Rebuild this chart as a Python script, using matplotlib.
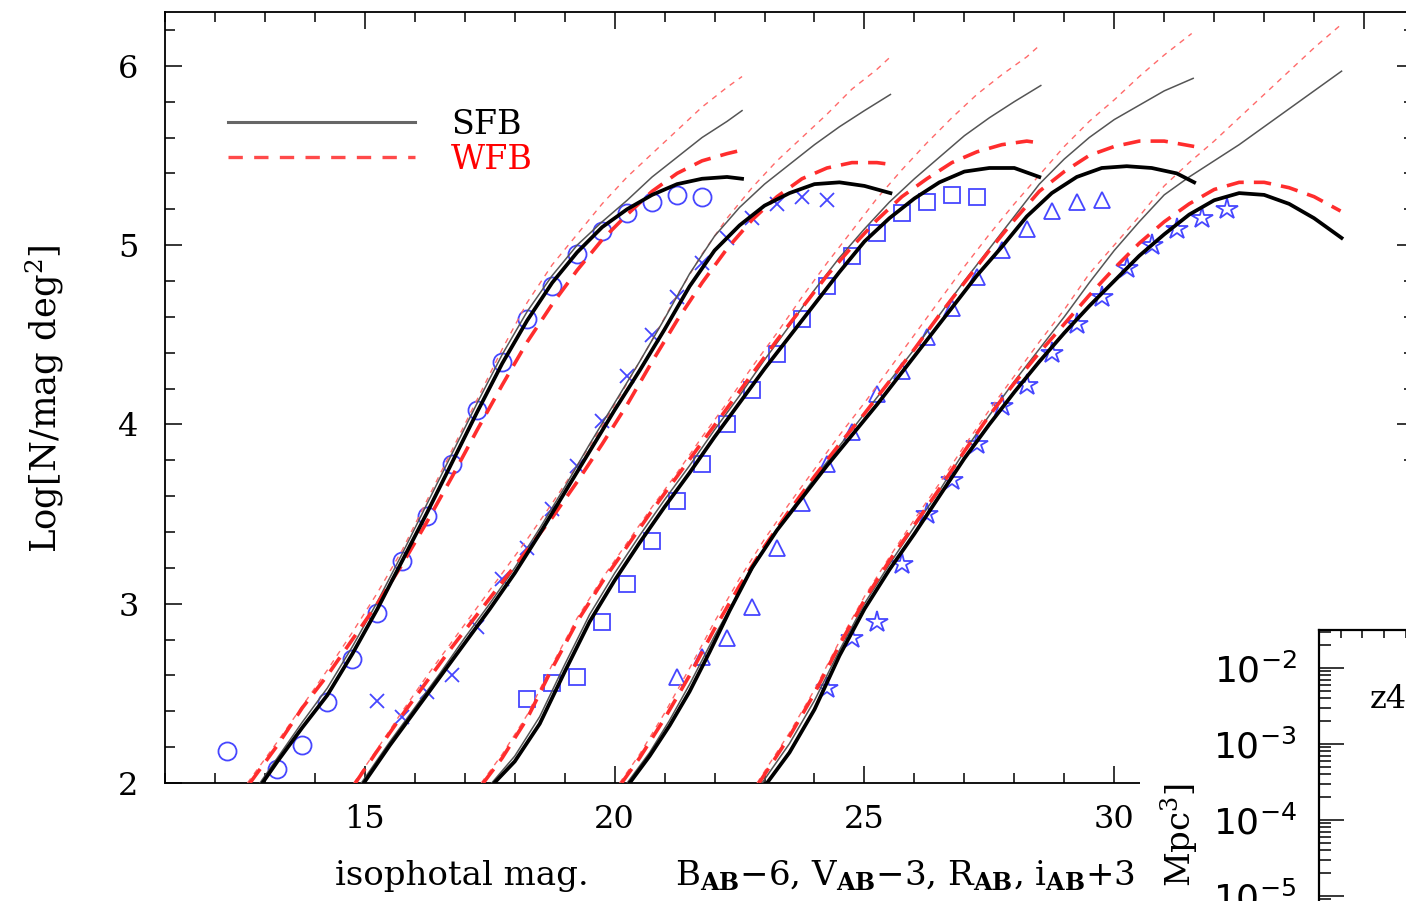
import numpy as np
import matplotlib
matplotlib.use("Agg")
import matplotlib.pyplot as plt
from matplotlib.lines import Line2D
from matplotlib.patches import Rectangle
from matplotlib.ticker import MultipleLocator, LogLocator, NullFormatter

plt.rcParams["font.family"] = ["DejaVu Serif"]
plt.rcParams["mathtext.fontset"] = "dejavuserif"

# observed counts (isophotal mag, log N / mag / deg^2), one list per band
b_mag = [12.25, 13.25, 13.75, 14.25, 14.75, 15.25, 15.75, 16.25, 16.75, 17.25,
         17.75, 18.25, 18.75, 19.25, 19.75, 20.25, 20.75, 21.25, 21.75]
b_logn = [2.18, 2.08, 2.21, 2.45, 2.69, 2.95, 3.24, 3.49, 3.78, 4.08,
          4.35, 4.59, 4.77, 4.95, 5.08, 5.18, 5.24, 5.28, 5.27]

v_mag = [15.25, 15.75, 16.25, 16.75, 17.25, 17.75, 18.25, 18.75, 19.25, 19.75,
         20.25, 20.75, 21.25, 21.75, 22.25, 22.75, 23.25, 23.75, 24.25]
v_logn = [2.46, 2.37, 2.51, 2.60, 2.87, 3.14, 3.31, 3.53, 3.77, 4.02,
          4.27, 4.50, 4.71, 4.90, 5.04, 5.15, 5.23, 5.27, 5.25]

r_mag = [18.25, 18.75, 19.25, 19.75, 20.25, 20.75, 21.25, 21.75, 22.25, 22.75,
         23.25, 23.75, 24.25, 24.75, 25.25, 25.75, 26.25, 26.75, 27.25]
r_logn = [2.47, 2.56, 2.59, 2.90, 3.11, 3.35, 3.57, 3.78, 4.00, 4.19,
          4.39, 4.59, 4.77, 4.94, 5.07, 5.18, 5.24, 5.28, 5.27]

i_mag = [21.25, 21.75, 22.25, 22.75, 23.25, 23.75, 24.25, 24.75, 25.25, 25.75,
         26.25, 26.75, 27.25, 27.75, 28.25, 28.75, 29.25, 29.75]
i_logn = [2.59, 2.70, 2.81, 2.98, 3.31, 3.56, 3.78, 3.96, 4.17, 4.30,
          4.49, 4.65, 4.82, 4.97, 5.09, 5.19, 5.24, 5.25]

z_mag = [24.25, 24.75, 25.25, 25.75, 26.25, 26.75, 27.25, 27.75, 28.25, 28.75,
         29.25, 29.75, 30.25, 30.75, 31.25, 31.75, 32.25]
z_logn = [2.53, 2.81, 2.90, 3.22, 3.50, 3.69, 3.89, 4.10, 4.22, 4.40,
          4.56, 4.71, 4.87, 5.00, 5.09, 5.15, 5.20]

# model curves: thick = SFB / WFB, thin = the same models without the cut-off
b_sfb = [(12.95, 2.00), (13.25, 2.12), (13.75, 2.31), (14.25, 2.49), (14.75, 2.72),
         (15.25, 2.97), (15.75, 3.24), (16.25, 3.51), (16.75, 3.79), (17.25, 4.07),
         (17.75, 4.34), (18.25, 4.58), (18.75, 4.79), (19.25, 4.96), (19.75, 5.10),
         (20.25, 5.20), (20.75, 5.28), (21.25, 5.34), (21.75, 5.37), (22.25, 5.38),
         (22.55, 5.37)]
b_wfb = [(12.70, 2.00), (13.25, 2.21), (13.75, 2.42), (14.25, 2.60), (14.75, 2.80),
         (15.25, 3.00), (15.75, 3.22), (16.25, 3.46), (16.75, 3.71), (17.25, 3.97),
         (17.75, 4.22), (18.25, 4.46), (18.75, 4.67), (19.25, 4.86), (19.75, 5.03),
         (20.25, 5.17), (20.75, 5.30), (21.25, 5.40), (21.75, 5.47), (22.25, 5.51),
         (22.55, 5.53)]
b_sfb_thin = [(12.90, 2.00), (13.25, 2.14), (13.75, 2.34), (14.25, 2.53), (14.75, 2.76),
              (15.25, 3.01), (15.75, 3.28), (16.25, 3.56), (16.75, 3.84), (17.25, 4.12),
              (17.75, 4.39), (18.25, 4.63), (18.75, 4.83), (19.25, 5.00), (19.75, 5.13),
              (20.25, 5.25), (20.75, 5.38), (21.25, 5.49), (21.75, 5.60), (22.25, 5.69),
              (22.55, 5.75)]
b_wfb_thin = [(12.65, 2.00), (13.25, 2.23), (13.75, 2.43), (14.25, 2.63), (14.75, 2.84),
              (15.25, 3.06), (15.75, 3.30), (16.25, 3.58), (16.75, 3.86), (17.25, 4.14),
              (17.75, 4.42), (18.25, 4.68), (18.75, 4.89), (19.25, 5.06), (19.75, 5.23),
              (20.25, 5.38), (20.75, 5.51), (21.25, 5.64), (21.75, 5.77), (22.25, 5.88),
              (22.55, 5.94)]

v_sfb = [(14.98, 2.00), (15.5, 2.21), (16.0, 2.40), (16.5, 2.59), (17.0, 2.78),
         (17.5, 2.97), (18.0, 3.17), (18.5, 3.39), (19.0, 3.62), (19.5, 3.85),
         (20.0, 4.08), (20.5, 4.30), (21.0, 4.53), (21.5, 4.77), (22.0, 4.97),
         (22.5, 5.11), (23.0, 5.22), (23.5, 5.29), (24.0, 5.34), (24.5, 5.35),
         (25.0, 5.33), (25.52, 5.29)]
v_wfb = [(14.81, 2.00), (15.25, 2.18), (15.75, 2.38), (16.25, 2.57), (16.75, 2.76),
         (17.25, 2.94), (17.75, 3.12), (18.25, 3.30), (18.75, 3.48), (19.25, 3.68),
         (19.75, 3.89), (20.25, 4.11), (20.75, 4.35), (21.25, 4.58), (21.75, 4.79),
         (22.25, 4.98), (22.75, 5.14), (23.25, 5.27), (23.75, 5.37), (24.25, 5.43),
         (24.75, 5.46), (25.25, 5.46), (25.52, 5.45)]
v_sfb_thin = [(14.93, 2.00), (15.5, 2.23), (16.0, 2.42), (16.5, 2.61), (17.0, 2.81),
              (17.5, 3.00), (18.0, 3.20), (18.5, 3.42), (19.0, 3.65), (19.5, 3.89),
              (20.0, 4.12), (20.5, 4.35), (21.0, 4.59), (21.5, 4.84), (22.0, 5.05),
              (22.5, 5.21), (23.0, 5.34), (23.5, 5.45), (24.0, 5.56), (24.5, 5.66),
              (25.0, 5.75), (25.52, 5.84)]
v_wfb_thin = [(14.78, 2.00), (15.25, 2.19), (15.75, 2.40), (16.25, 2.60), (16.75, 2.79),
              (17.25, 2.98), (17.75, 3.17), (18.25, 3.36), (18.75, 3.56), (19.25, 3.77),
              (19.75, 3.99), (20.25, 4.23), (20.75, 4.47), (21.25, 4.72), (21.75, 4.95),
              (22.25, 5.15), (22.75, 5.32), (23.25, 5.47), (23.75, 5.60), (24.25, 5.73),
              (24.75, 5.87), (25.25, 5.98), (25.52, 6.05)]

r_sfb = [(17.59, 2.00), (18.0, 2.12), (18.5, 2.33), (19.0, 2.62), (19.5, 2.90),
         (20.0, 3.13), (20.5, 3.34), (21.0, 3.54), (21.5, 3.73), (22.0, 3.93),
         (22.5, 4.12), (23.0, 4.31), (23.5, 4.49), (24.0, 4.67), (24.5, 4.85),
         (25.0, 5.02), (25.5, 5.15), (26.0, 5.26), (26.5, 5.35), (27.0, 5.41),
         (27.5, 5.43), (28.0, 5.43), (28.5, 5.38)]
r_wfb = [(17.37, 2.00), (17.75, 2.14), (18.25, 2.36), (18.75, 2.64), (19.25, 2.90),
         (19.75, 3.12), (20.25, 3.32), (20.75, 3.52), (21.25, 3.71), (21.75, 3.90),
         (22.25, 4.09), (22.75, 4.28), (23.25, 4.47), (23.75, 4.65), (24.25, 4.83),
         (24.75, 4.99), (25.25, 5.14), (25.75, 5.27), (26.25, 5.37), (26.75, 5.46),
         (27.25, 5.52), (27.75, 5.56), (28.25, 5.58), (28.5, 5.57)]
r_sfb_thin = [(17.54, 2.00), (18.0, 2.15), (18.5, 2.37), (19.0, 2.66), (19.5, 2.94),
              (20.0, 3.17), (20.5, 3.38), (21.0, 3.58), (21.5, 3.77), (22.0, 3.97),
              (22.5, 4.16), (23.0, 4.36), (23.5, 4.55), (24.0, 4.75), (24.5, 4.93),
              (25.0, 5.09), (25.5, 5.24), (26.0, 5.37), (26.5, 5.49), (27.0, 5.61),
              (27.5, 5.71), (28.0, 5.80), (28.53, 5.89)]
r_wfb_thin = [(17.33, 2.00), (17.75, 2.16), (18.25, 2.38), (18.75, 2.66), (19.25, 2.92),
              (19.75, 3.14), (20.25, 3.34), (20.75, 3.54), (21.25, 3.73), (21.75, 3.93),
              (22.25, 4.12), (22.75, 4.32), (23.25, 4.51), (23.75, 4.71), (24.25, 4.90),
              (24.75, 5.08), (25.25, 5.26), (25.75, 5.42), (26.25, 5.57), (26.75, 5.71),
              (27.25, 5.84), (27.75, 5.95), (28.25, 6.05), (28.53, 6.12)]

i_sfb = [(20.30, 2.00), (20.7, 2.15), (21.1, 2.32), (21.5, 2.51), (21.9, 2.73),
         (22.3, 2.96), (22.75, 3.20), (23.25, 3.41), (23.75, 3.59), (24.25, 3.77),
         (24.75, 3.94), (25.25, 4.11), (25.75, 4.29), (26.25, 4.47), (26.75, 4.65),
         (27.25, 4.83), (27.75, 4.99), (28.25, 5.16), (28.75, 5.29), (29.25, 5.38),
         (29.75, 5.43), (30.25, 5.44), (30.75, 5.43), (31.25, 5.40), (31.6, 5.35)]
i_wfb = [(20.14, 2.00), (20.5, 2.14), (21.0, 2.36), (21.5, 2.60), (22.0, 2.86),
         (22.5, 3.10), (23.0, 3.32), (23.5, 3.52), (24.0, 3.71), (24.5, 3.89),
         (25.0, 4.06), (25.5, 4.24), (26.0, 4.42), (26.5, 4.61), (27.0, 4.79),
         (27.5, 4.97), (28.0, 5.14), (28.5, 5.30), (29.0, 5.41), (29.5, 5.50),
         (30.0, 5.55), (30.5, 5.58), (31.0, 5.58), (31.6, 5.55)]
i_sfb_thin = [(20.25, 2.00), (20.7, 2.17), (21.1, 2.35), (21.5, 2.55), (22.0, 2.82),
              (22.5, 3.07), (23.0, 3.31), (23.5, 3.51), (24.0, 3.70), (24.5, 3.88),
              (25.0, 4.06), (25.5, 4.24), (26.0, 4.42), (26.5, 4.61), (27.0, 4.80),
              (27.5, 4.98), (28.0, 5.16), (28.5, 5.34), (29.0, 5.48), (29.5, 5.60),
              (30.0, 5.70), (30.5, 5.78), (31.0, 5.86), (31.58, 5.93)]
i_wfb_thin = [(20.10, 2.00), (20.5, 2.16), (21.0, 2.39), (21.5, 2.64), (22.0, 2.90),
              (22.5, 3.14), (23.0, 3.36), (23.5, 3.56), (24.0, 3.75), (24.5, 3.94),
              (25.0, 4.12), (25.5, 4.31), (26.0, 4.50), (26.5, 4.69), (27.0, 4.88),
              (27.5, 5.06), (28.0, 5.23), (28.5, 5.39), (29.0, 5.55), (29.5, 5.69),
              (30.0, 5.81), (30.5, 5.94), (31.0, 6.06), (31.55, 6.18)]

z_sfb = [(23.05, 2.00), (23.5, 2.17), (24.0, 2.41), (24.5, 2.71), (25.0, 2.97),
         (25.5, 3.19), (26.0, 3.39), (26.5, 3.60), (27.0, 3.81), (27.5, 4.00),
         (28.0, 4.18), (28.5, 4.35), (29.0, 4.51), (29.5, 4.66), (30.0, 4.80),
         (30.5, 4.94), (31.0, 5.06), (31.5, 5.17), (32.0, 5.25), (32.5, 5.29),
         (33.0, 5.28), (33.5, 5.23), (34.0, 5.15), (34.55, 5.04)]
z_wfb = [(22.89, 2.00), (23.5, 2.26), (24.0, 2.50), (24.5, 2.77), (25.0, 3.02),
         (25.5, 3.24), (26.0, 3.44), (26.5, 3.64), (27.0, 3.85), (27.5, 4.05),
         (28.0, 4.23), (28.5, 4.40), (29.0, 4.56), (29.5, 4.72), (30.0, 4.87),
         (30.5, 5.01), (31.0, 5.13), (31.5, 5.23), (32.0, 5.31), (32.5, 5.35),
         (33.0, 5.35), (33.5, 5.32), (34.0, 5.27), (34.53, 5.19)]
z_sfb_thin = [(22.95, 2.00), (23.5, 2.22), (24.0, 2.46), (24.5, 2.74), (25.0, 3.00),
              (25.5, 3.22), (26.0, 3.43), (26.5, 3.63), (27.0, 3.85), (27.5, 4.05),
              (28.0, 4.24), (28.5, 4.42), (29.0, 4.60), (29.5, 4.79), (30.0, 4.97),
              (30.5, 5.13), (31.0, 5.28), (31.5, 5.38), (32.0, 5.47), (32.5, 5.56),
              (33.0, 5.66), (33.5, 5.76), (34.0, 5.86), (34.55, 5.97)]
z_wfb_thin = [(22.85, 2.00), (23.5, 2.28), (24.0, 2.52), (24.5, 2.79), (25.0, 3.04),
              (25.5, 3.26), (26.0, 3.47), (26.5, 3.67), (27.0, 3.88), (27.5, 4.08),
              (28.0, 4.27), (28.5, 4.46), (29.0, 4.64), (29.5, 4.84), (30.0, 5.00),
              (30.5, 5.16), (31.0, 5.33), (31.5, 5.46), (32.0, 5.58), (32.5, 5.71),
              (33.0, 5.84), (33.5, 5.97), (34.0, 6.10), (34.5, 6.22)]

BLUE = "#4646ff"
RED = "#ff2d2d"
PINK = "#ff6a6a"

W, H = 1406, 901
fig = plt.figure(figsize=(W / 100, H / 100), dpi=100)
fig.patch.set_facecolor("white")

ax = fig.add_axes([165 / W, 1 - 783 / H, 1249 / W, 771 / H])
ax.set_xlim(11, 36)
ax.set_ylim(2, 6.3)

bands = [
    (b_mag, b_logn, "o", 13, b_sfb, b_wfb, b_sfb_thin, b_wfb_thin),
    (v_mag, v_logn, "x", 10, v_sfb, v_wfb, v_sfb_thin, v_wfb_thin),
    (r_mag, r_logn, "s", 12, r_sfb, r_wfb, r_sfb_thin, r_wfb_thin),
    (i_mag, i_logn, "^", 12, i_sfb, i_wfb, i_sfb_thin, i_wfb_thin),
    (z_mag, z_logn, "*", 16, z_sfb, z_wfb, z_sfb_thin, z_wfb_thin),
]

for mag, logn, marker, ms, sfb, wfb, sfb_thin, wfb_thin in bands:
    ax.plot(mag, logn, ls="none", marker=marker, ms=ms, mfc="none",
            mec=BLUE, mew=1.3, zorder=2)
    x, y = np.array(wfb_thin).T
    ax.plot(x, y, color=PINK, lw=1.0, dashes=(4, 4), zorder=3)
    x, y = np.array(sfb_thin).T
    ax.plot(x, y, color="#555555", lw=1.1, zorder=3)
    x, y = np.array(wfb).T
    ax.plot(x, y, color=RED, lw=2.6, dashes=(4.8, 2.8), zorder=4)
    x, y = np.array(sfb).T
    ax.plot(x, y, color="black", lw=2.7, zorder=5)

ax.xaxis.set_major_locator(MultipleLocator(5))
ax.xaxis.set_minor_locator(MultipleLocator(1))
ax.yaxis.set_major_locator(MultipleLocator(1))
ax.yaxis.set_minor_locator(MultipleLocator(0.2))
ax.tick_params(which="both", direction="in", top=True, right=True, width=1.1)
ax.tick_params(which="major", length=12.5)
ax.tick_params(which="minor", length=7)
ax.tick_params(axis="x", pad=15, labelsize=23)
ax.tick_params(axis="y", pad=19, labelsize=23)
for sp in ax.spines.values():
    sp.set_linewidth(1.3)

handles = [Line2D([], [], color="#666666", lw=2.2),
           Line2D([], [], color="#ff4a4a", lw=2.4, dashes=(4.3, 3.4))]
leg = ax.legend(handles, ["SFB", "WFB"], loc="upper left",
                bbox_to_anchor=(0.0504, 0.874), frameon=False,
                borderaxespad=0, borderpad=0, handlelength=5.6,
                handletextpad=1.1, labelspacing=0.08, fontsize=24)
leg.get_texts()[1].set_color("red")

fig.text(45 / W, 1 - 399 / H, r"Log[N/mag deg$^2$]", rotation=90,
         ha="center", va="center", fontsize=25.5)
fig.text(335 / W, 1 - 876 / H, "isophotal mag.",
         ha="left", va="center", fontsize=24.5)
fig.text(1135 / W, 1 - 876 / H,
         r"B$_{\mathbf{AB}}$−6, V$_{\mathbf{AB}}$−3, "
         r"R$_{\mathbf{AB}}$, i$_{\mathbf{AB}}$+3",
         ha="right", va="center", fontsize=24.5)

# neighbouring luminosity-function panel overlapping the lower right corner
fig.add_artist(Rectangle((1140 / W, 0), (W - 1140) / W, 1 - 480 / H,
                         transform=fig.transFigure, facecolor="white",
                         edgecolor="none", zorder=1))

ins = fig.add_axes([1319 / W, 1 - 1010 / H, 434 / W, 380 / H], zorder=2)
ins.set_yscale("log")
ins.set_ylim(10 ** -6.5, 10 ** -1.5)
ins.set_xlim(0, 20)
ins.xaxis.set_major_locator(MultipleLocator(5))
ins.xaxis.set_minor_locator(MultipleLocator(1))
ins.yaxis.set_major_locator(LogLocator(base=10))
ins.yaxis.set_minor_locator(LogLocator(base=10, subs=np.arange(2, 10) * 1.0))
ins.yaxis.set_minor_formatter(NullFormatter())
ins.tick_params(which="both", direction="in", top=True, right=True,
                width=1.1, labelbottom=False)
ins.tick_params(which="major", length=18)
ins.tick_params(which="minor", length=8.5)
ins.tick_params(axis="x", which="minor", length=6)
ins.tick_params(axis="y", pad=16, labelsize=26)
for lbl in ins.get_yticklabels():
    lbl.set_fontfamily("DejaVu Sans")
for sp in ins.spines.values():
    sp.set_linewidth(1.6)

ins.text(0.118, 0.818, "z4", transform=ins.transAxes, ha="left",
         va="center", fontsize=23)
ins.text(-0.32, 0.597, r"Mpc$^3$]", transform=ins.transAxes,
         rotation=90, ha="center", va="top", fontsize=24.5, clip_on=False)

fig.savefig("out.png", dpi=100)
